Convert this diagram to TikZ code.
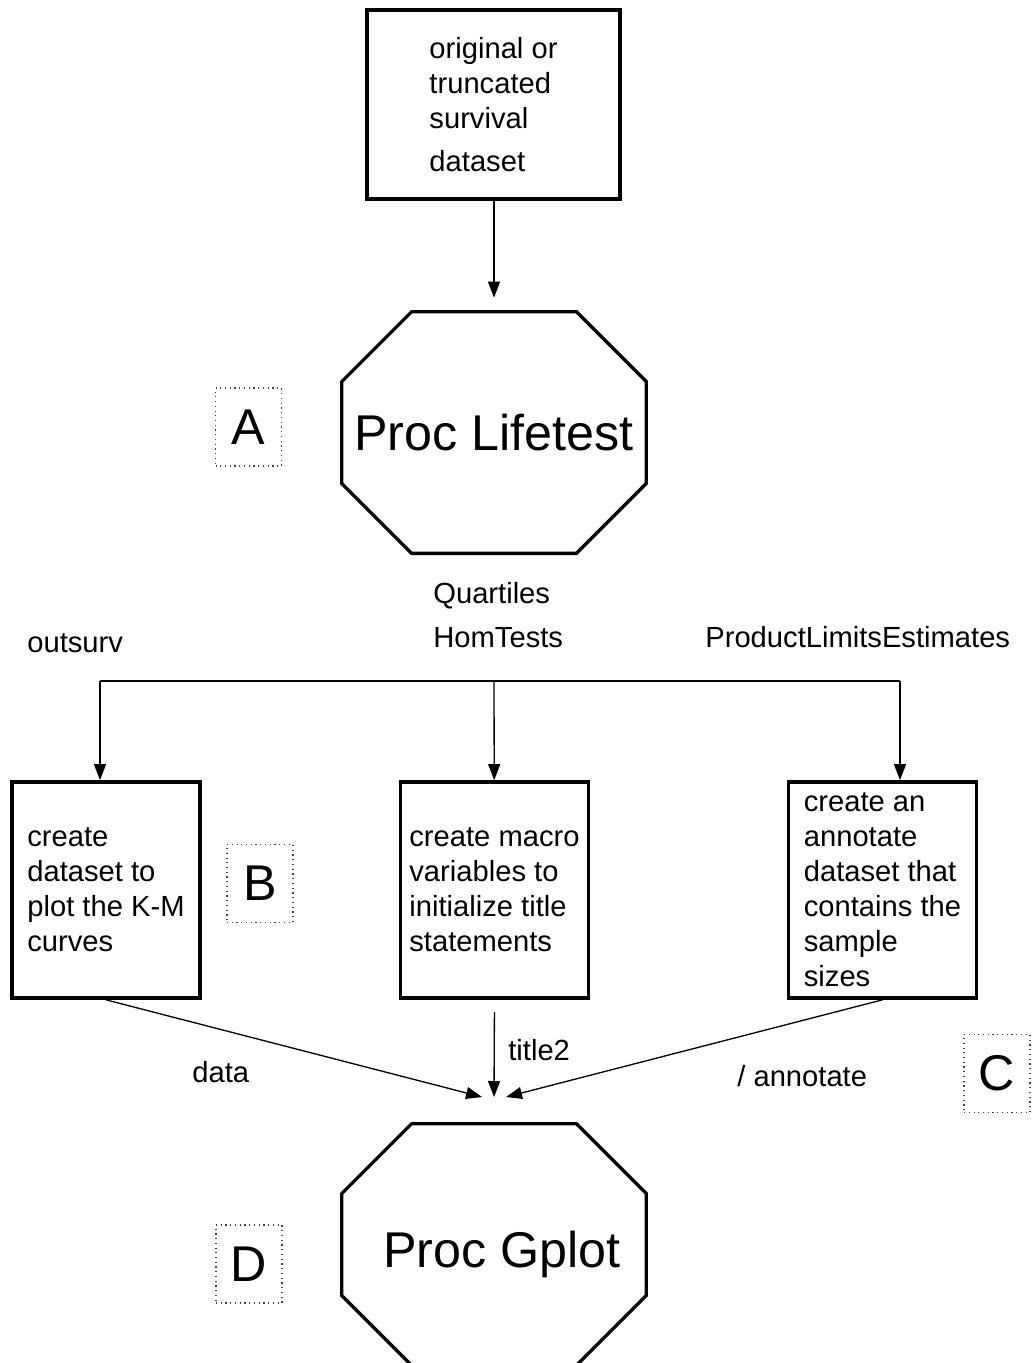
\documentclass[tikz,border=0pt]{standalone}
\usepackage{fontspec}
\setmainfont{Liberation Sans}
\usepackage{tikz}
\usetikzlibrary{arrows.meta, positioning, calc}
\newcommand{\smalltxt}{\fontsize{16.6pt}{19.9pt}\selectfont}
\newcommand{\bigtxt}{\fontsize{28.6pt}{34pt}\selectfont}
\tikzstyle{procbox} = [
    draw, line width=2.1pt, align=left, font=\smalltxt,
    minimum width=3.76cm, minimum height=4.32cm, inner sep=0pt,
]
\tikzstyle{octo} = [
    minimum width=6.08cm, minimum height=4.82cm, inner sep=0pt, font=\bigtxt,
]
\tikzstyle{tag} = [
    draw=black!75, dotted, line width=0.7pt, font=\bigtxt,
    minimum width=1.32cm, minimum height=1.56cm, inner sep=0pt,
]
\tikzstyle{lbl} = [anchor=base west, inner sep=0pt, font=\smalltxt]
\tikzstyle{arrow} = [-{Triangle[length=0.32cm,width=0.24cm]}, line width=0.75pt]
% chamfered outline round a named node (corners cut by 70 units)
\newcommand{\chamfer}[1]{
    \draw[line width=1.9pt]
        ($(#1.north west)+(70,0)$) -- ($(#1.north east)+(-70,0)$) --
        ($(#1.north east)+(0,70)$) -- ($(#1.south east)+(0,-70)$) --
        ($(#1.south east)+(-70,0)$) -- ($(#1.south west)+(70,0)$) --
        ($(#1.south west)+(0,-70)$) -- ($(#1.north west)+(0,70)$) -- cycle;
}

\begin{document}
\begin{tikzpicture}[x=0.02cm, y=-0.02cm]
    \useasboundingbox (0,0) rectangle (1033,1363);

    \node[procbox, minimum width=5.06cm, minimum height=3.78cm] (data) at (493.5,104.5)
        {original or\\truncated\\survival\\[0.16cm]dataset};

    \node[octo] (life) at (494,432.5) {Proc Lifetest};
    \chamfer{life}
    \node[tag] (tagA) at (248.5,427) {A};

    % outputs of the lifetest step
    \node[lbl] (quart) at (433,603.5) {Quartiles};
    \node[lbl] (homt) at (433,647.5) {HomTests};
    \node[lbl] (osurv) at (27,652) {outsurv};
    \node[lbl] (ple) at (705,647.5) {ProductLimitsEstimates};

    \node[procbox] (kmbox) at (106,890) {create\\dataset to\\plot the K-M\\curves};
    \node[procbox] (macbox) at (494.5,890) {create macro\\variables to\\initialize title\\statements};
    \node[procbox] (annbox) at (882.5,890) {create an\\annotate\\dataset that\\contains the\\sample\\sizes};
    \node[tag] (tagB) at (260,883.5) {B};
    \node[tag] (tagC) at (997,1073.5) {C};

    \node[octo, label={[font=\bigtxt, xshift=0.16cm, yshift=-0.2cm]center:Proc Gplot}] (gplot) at (494,1244.5) {};
    \chamfer{gplot}
    \node[tag] (tagD) at (249,1264) {D};

    \coordinate (hl) at (100,681);
    \coordinate (split) at (494,681);
    \coordinate (hr) at (900,681);
    \coordinate (inL) at (482,1097);
    \coordinate (inM) at (494,1097);
    \coordinate (inR) at (506,1097);

    \draw[arrow, shorten >=0.28cm] (data.south -| life.north) -- (life);
    \draw[line width=0.75pt] (hl) -- (hr);
    \draw[arrow] (hl) -- (hl |- kmbox.north);
    \draw[arrow] (split) -- (macbox);
    \draw[arrow] (hr) -- (hr |- annbox.north);

    \draw[arrow] (kmbox.south) -- (inL);
    \draw[arrow, shorten <=0.24cm] (macbox.south) -- (inM);
    \draw[arrow] (annbox.south) -- (inR);

    \node[lbl] (ldata) at (192,1082) {data};
    \node[lbl] (ltitle) at (508,1060) {title2};
    \node[lbl] (lannot) at (737,1086) {/ annotate};
\end{tikzpicture}
\end{document}
